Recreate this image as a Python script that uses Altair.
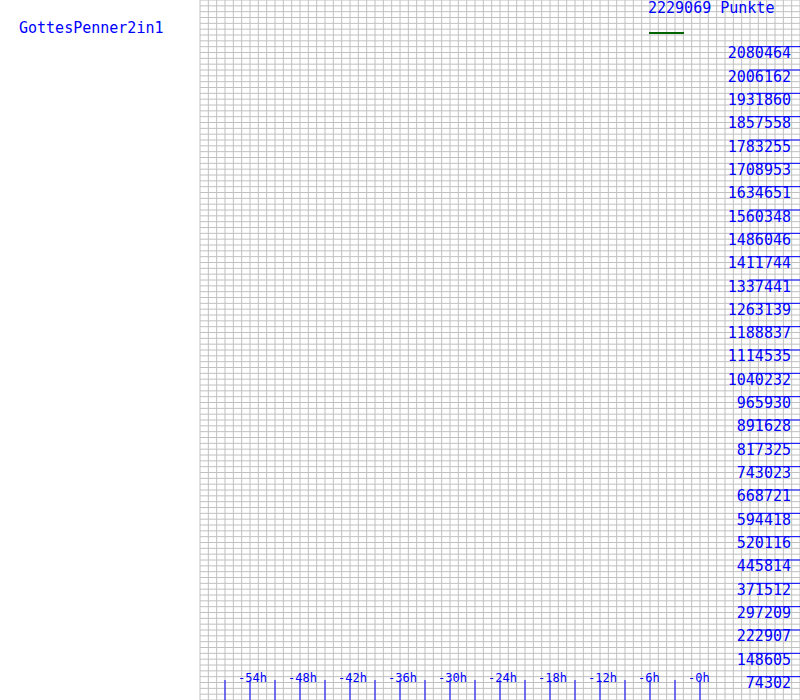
import altair as alt
import pandas as pd

# ---- data -------------------------------------------------------------
player_name = "GottesPenner2in1"
total_label = "2229069 Punkte"
max_points = 2229069

y_tick_values = [74302, 148605, 222907, 297209, 371512, 445814, 520116,
                 594418, 668721, 743023, 817325, 891628, 965930, 1040232,
                 1114535, 1188837, 1263139, 1337441, 1411744, 1486046,
                 1560348, 1634651, 1708953, 1783255, 1857558, 1931860,
                 2006162, 2080464]
y_tick_labels = [str(v) for v in y_tick_values]

x_tick_hours = [-57, -54, -51, -48, -45, -42, -39, -36, -33, -30, -27, -24,
                -21, -18, -15, -12, -9, -6, -3, 0]
x_label_hours = [-54, -48, -42, -36, -30, -24, -18, -12, -6, 0]
x_labels = ["-54h", "-48h", "-42h", "-36h", "-30h", "-24h", "-18h", "-12h",
            "-6h", "-0h"]

grid_hours = list(range(-60, 13))                     # one line per hour
grid_points = [max_points * k / 120 for k in range(121)]  # quarter steps

# ---- scales -----------------------------------------------------------
XS = alt.Scale(domain=[-84, 12], range=[0, 800], nice=False, zero=False)
YS = alt.Scale(domain=[0, max_points], range=[700, 0], nice=False, zero=False)
BLUE = "#0000ff"
GRID = "#c0c0c0"
FONT = "DejaVu Sans Mono"

vgrid = alt.Chart(pd.DataFrame({"h": grid_hours})).mark_rule(
    color=GRID, strokeWidth=1
).encode(
    x=alt.X("h:Q", scale=XS, axis=None),
    y=alt.value(0), y2=alt.value(700),
)

hgrid = alt.Chart(pd.DataFrame({"p": grid_points, "h0": -60, "h1": 12})).mark_rule(
    color=GRID, strokeWidth=1
).encode(
    y=alt.Y("p:Q", scale=YS, axis=None),
    x=alt.X("h0:Q", scale=XS, axis=None), x2="h1:Q",
)

ytick_df = pd.DataFrame({"p": y_tick_values, "lab": y_tick_labels})
yticks = alt.Chart(ytick_df).mark_rule(color=BLUE, strokeWidth=1).encode(
    y=alt.Y("p:Q", scale=YS, axis=None),
    x=alt.value(749), x2=alt.value(800),
)
ylabels = alt.Chart(ytick_df).mark_text(
    color=BLUE, font=FONT, fontSize=15, align="right",
    baseline="alphabetic", dy=11.5
).encode(
    y=alt.Y("p:Q", scale=YS, axis=None),
    x=alt.value(791),
    text="lab:N",
)

xticks = alt.Chart(pd.DataFrame({"h": x_tick_hours})).mark_rule(
    color=BLUE, strokeWidth=1
).encode(
    x=alt.X("h:Q", scale=XS, axis=None),
    y=alt.value(680), y2=alt.value(700),
)
xlabels = alt.Chart(pd.DataFrame({"h": x_label_hours, "lab": x_labels})).mark_text(
    color=BLUE, font=FONT, fontSize=12, align="left",
    baseline="alphabetic", dx=-12
).encode(
    x=alt.X("h:Q", scale=XS, axis=None),
    y=alt.value(682),
    text="lab:N",
)

name_text = alt.Chart(pd.DataFrame({"t": [player_name]})).mark_text(
    color=BLUE, font=FONT, fontSize=15, align="left",
    baseline="alphabetic"
).encode(x=alt.value(19), y=alt.value(33), text="t:N")

legend_text = alt.Chart(pd.DataFrame({"t": [total_label]})).mark_text(
    color=BLUE, font=FONT, fontSize=15, align="left",
    baseline="alphabetic"
).encode(x=alt.value(648), y=alt.value(13), text="t:N")

legend_line = alt.Chart(pd.DataFrame({"t": [total_label]})).mark_rule(
    color="#006400", strokeWidth=2
).encode(x=alt.value(649), x2=alt.value(684), y=alt.value(33))

chart = alt.layer(
    vgrid, hgrid, yticks, xticks, ylabels, xlabels, name_text, legend_text, legend_line
).properties(
    width=800, height=700, padding=0, background="white",
    autosize=alt.AutoSizeParams(type="none"),
).configure_view(stroke=None)

chart.save("out.html", embed_options={"renderer": "svg", "actions": False})
